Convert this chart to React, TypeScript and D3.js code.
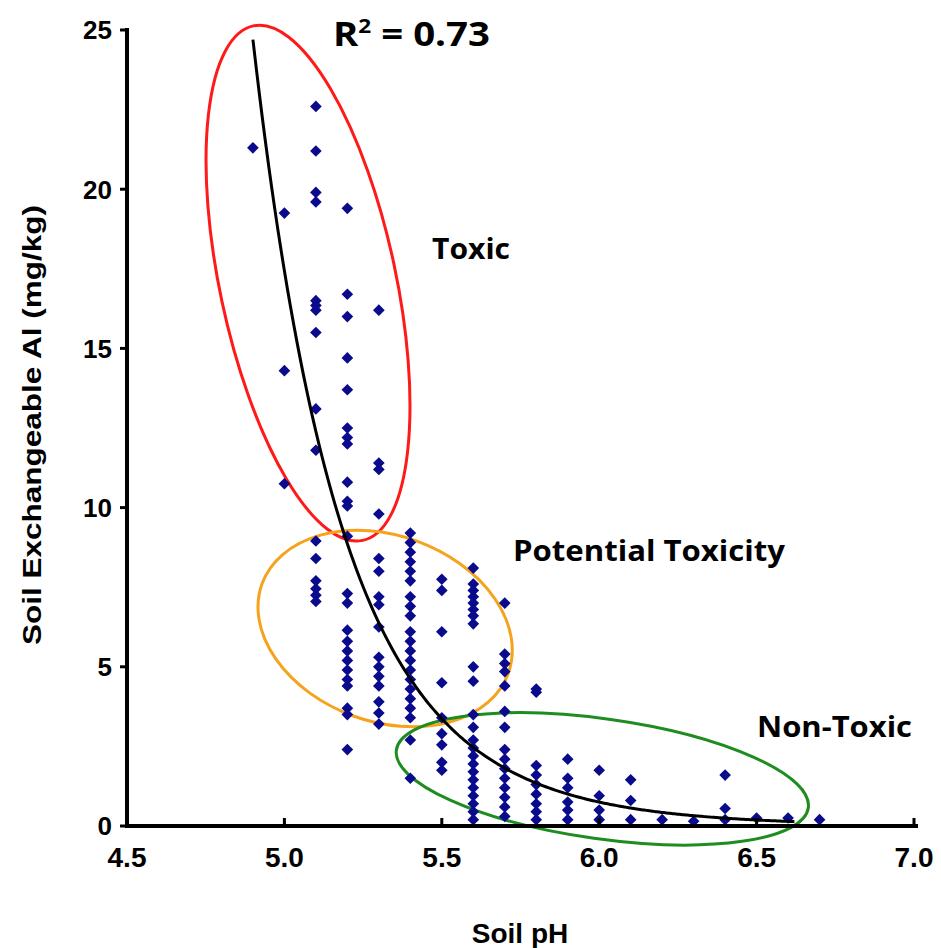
import React from 'react';
import * as d3 from 'd3';

// soil pH columns and the exchangeable Al readings at each one (mg/kg)
const phLevels = [4.9, 5.0, 5.1, 5.2, 5.3, 5.4, 5.5, 5.6, 5.7, 5.8, 5.9, 6.0, 6.1, 6.2, 6.3, 6.4, 6.5, 6.6, 6.7];
const alValues = [
  [21.3],
  [19.25, 14.3, 10.75],
  [22.6, 21.2, 19.9, 19.6, 16.5, 16.35, 16.2, 15.5, 13.1, 11.8, 8.95, 8.4, 7.7, 7.45, 7.25, 7.05],
  [19.4, 16.7, 16.0, 14.7, 13.7, 12.5, 12.2, 12.0, 10.8, 10.2, 10.05, 9.1, 7.3, 7.0, 6.15, 5.8, 5.5, 5.2, 4.9, 4.6, 4.4, 3.7, 3.5, 2.4],
  [16.2, 11.4, 11.2, 9.8, 8.4, 8.0, 7.2, 6.95, 6.25, 5.3, 5.0, 4.7, 4.4, 3.9, 3.55, 3.2],
  [9.2, 8.9, 8.6, 8.3, 8.0, 7.7, 7.2, 6.9, 6.6, 6.1, 5.8, 5.5, 5.2, 4.9, 4.6, 4.3, 4.0, 3.7, 3.4, 2.7, 1.5],
  [7.75, 7.4, 6.1, 4.5, 3.4, 2.9, 2.55, 2.0, 1.75],
  [8.1, 7.6, 7.4, 7.2, 7.0, 6.8, 6.6, 6.35, 5.0, 4.55, 3.5, 3.1, 2.7, 2.45, 2.2, 1.95, 1.7, 1.45, 1.2, 0.95, 0.7, 0.45, 0.2],
  [7.0, 5.4, 5.1, 4.85, 4.4, 3.6, 3.1, 2.4, 2.1, 1.8, 1.5, 1.2, 0.9, 0.6, 0.3],
  [4.3, 4.2, 1.9, 1.6, 1.3, 1.0, 0.7, 0.45, 0.2],
  [2.1, 1.5, 1.2, 0.75, 0.5, 0.2],
  [1.75, 0.95, 0.5, 0.2],
  [1.45, 0.8, 0.2],
  [0.2],
  [0.15],
  [1.6, 0.55, 0.2],
  [0.25],
  [0.25],
  [0.2],
];

const xTicks = [4.5, 5.0, 5.5, 6.0, 6.5, 7.0];
const yTicks = [0, 5, 10, 15, 20, 25];

// power trendline y = a * pH^-b (R² = 0.73)
const fitExp = 17.25;
const fitA = 24.7 * Math.pow(4.9, fitExp);
const fitRange = [4.9, 6.62];

// zone ellipses: centre in data units, radii in px, rotation in degrees
const zones = [
  { name: 'Toxic', ph: 5.075, al: 17.05, rx: 263, ry: 88, rot: 78, color: '#ff1a1a' },
  { name: 'Potential Toxicity', ph: 5.32, al: 6.2, rx: 131, ry: 93, rot: 20, color: '#f5a31c' },
  { name: 'Non-Toxic', ph: 6.01, al: 1.48, rx: 208, ry: 60, rot: 8, color: '#1f8c1f' },
];

const W = 941;
const H = 948;

export default function App() {
  const x = d3.scaleLinear().domain([4.5, 7.0]).range([127, 914]);
  const y = d3.scaleLinear().domain([0, 25]).range([826, 30]);

  const points = phLevels.flatMap((ph, i) => alValues[i].map(v => ({ ph, v })));
  const diamond = d3.symbol(d3.symbolSquare, 68)();

  const fitData = d3.range(fitRange[0], fitRange[1] + 0.001, 0.01);
  const fitLine = d3
    .line<number>()
    .x(d => x(d))
    .y(d => y(fitA * Math.pow(d, -fitExp)))
    .curve(d3.curveBasis);

  const tickFont = '"Liberation Sans", Arial, sans-serif';
  const noteFont = '"Open Sans", Lato, sans-serif';

  return (
    <svg width={W} height={H} style={{ position: 'absolute', left: 0, top: 0, background: '#fff' }}>
      <rect width={W} height={H} fill="#fff" />

      {zones.map(z => (
        <ellipse
          key={z.name}
          cx={0}
          cy={0}
          rx={z.rx}
          ry={z.ry}
          transform={`translate(${x(z.ph)},${y(z.al)}) rotate(${z.rot})`}
          fill="none"
          stroke={z.color}
          strokeWidth={3}
        />
      ))}

      {points.map((p, i) => (
        <path key={i} d={diamond} transform={`translate(${x(p.ph)},${y(p.v)}) rotate(45)`} fill="#0a0a8c" />
      ))}

      <path d={fitLine(fitData) || ''} fill="none" stroke="#000" strokeWidth={3} />

      {/* axes */}
      <line x1={x(4.5)} x2={x(4.5)} y1={y(25) - 2} y2={y(0) + 2} stroke="#000" strokeWidth={4} />
      <line x1={x(4.5) - 2} x2={x(7.0) + 4} y1={y(0)} y2={y(0)} stroke="#000" strokeWidth={4} />
      {yTicks.map(t => (
        <g key={t}>
          <line x1={x(4.5) - 7} x2={x(4.5)} y1={y(t)} y2={y(t)} stroke="#000" strokeWidth={3} />
          <text x={112} y={y(t)} dy="0.36em" textAnchor="end" fontFamily={tickFont} fontWeight="bold" fontSize={26}>
            {t}
          </text>
        </g>
      ))}
      {xTicks.map(t => (
        <g key={t}>
          <line x1={x(t)} x2={x(t)} y1={y(0) - 8} y2={y(0)} stroke="#000" strokeWidth={3} />
          <text x={x(t)} y={867} textAnchor="middle" fontFamily={tickFont} fontWeight="bold" fontSize={28}>
            {t.toFixed(1)}
          </text>
        </g>
      ))}

      <text x={520} y={943} textAnchor="middle" fontFamily={tickFont} fontWeight="bold" fontSize={28}>
        Soil pH
      </text>
      <text
        transform="translate(41,425) rotate(-90)"
        textAnchor="middle"
        fontFamily={tickFont}
        fontWeight="bold"
        fontSize={25}
        textLength={440}
        lengthAdjust="spacingAndGlyphs"
      >
        Soil Exchangeable Al (mg/kg)
      </text>

      <text x={333} y={46} fontFamily={noteFont} fontWeight="bold" fontSize={34} textLength={157} lengthAdjust="spacingAndGlyphs">
        R<tspan dy={-13} fontSize={20}>2</tspan>
        <tspan dy={13}> = 0.73</tspan>
      </text>
      <text x={432} y={259} fontFamily={noteFont} fontWeight="bold" fontSize={29} textLength={78} lengthAdjust="spacingAndGlyphs">
        Toxic
      </text>
      <text x={513} y={561} fontFamily={noteFont} fontWeight="bold" fontSize={29} textLength={272} lengthAdjust="spacingAndGlyphs">
        Potential Toxicity
      </text>
      <text x={757} y={737} fontFamily={noteFont} fontWeight="bold" fontSize={29} textLength={155} lengthAdjust="spacingAndGlyphs">
        Non-Toxic
      </text>
    </svg>
  );
}
